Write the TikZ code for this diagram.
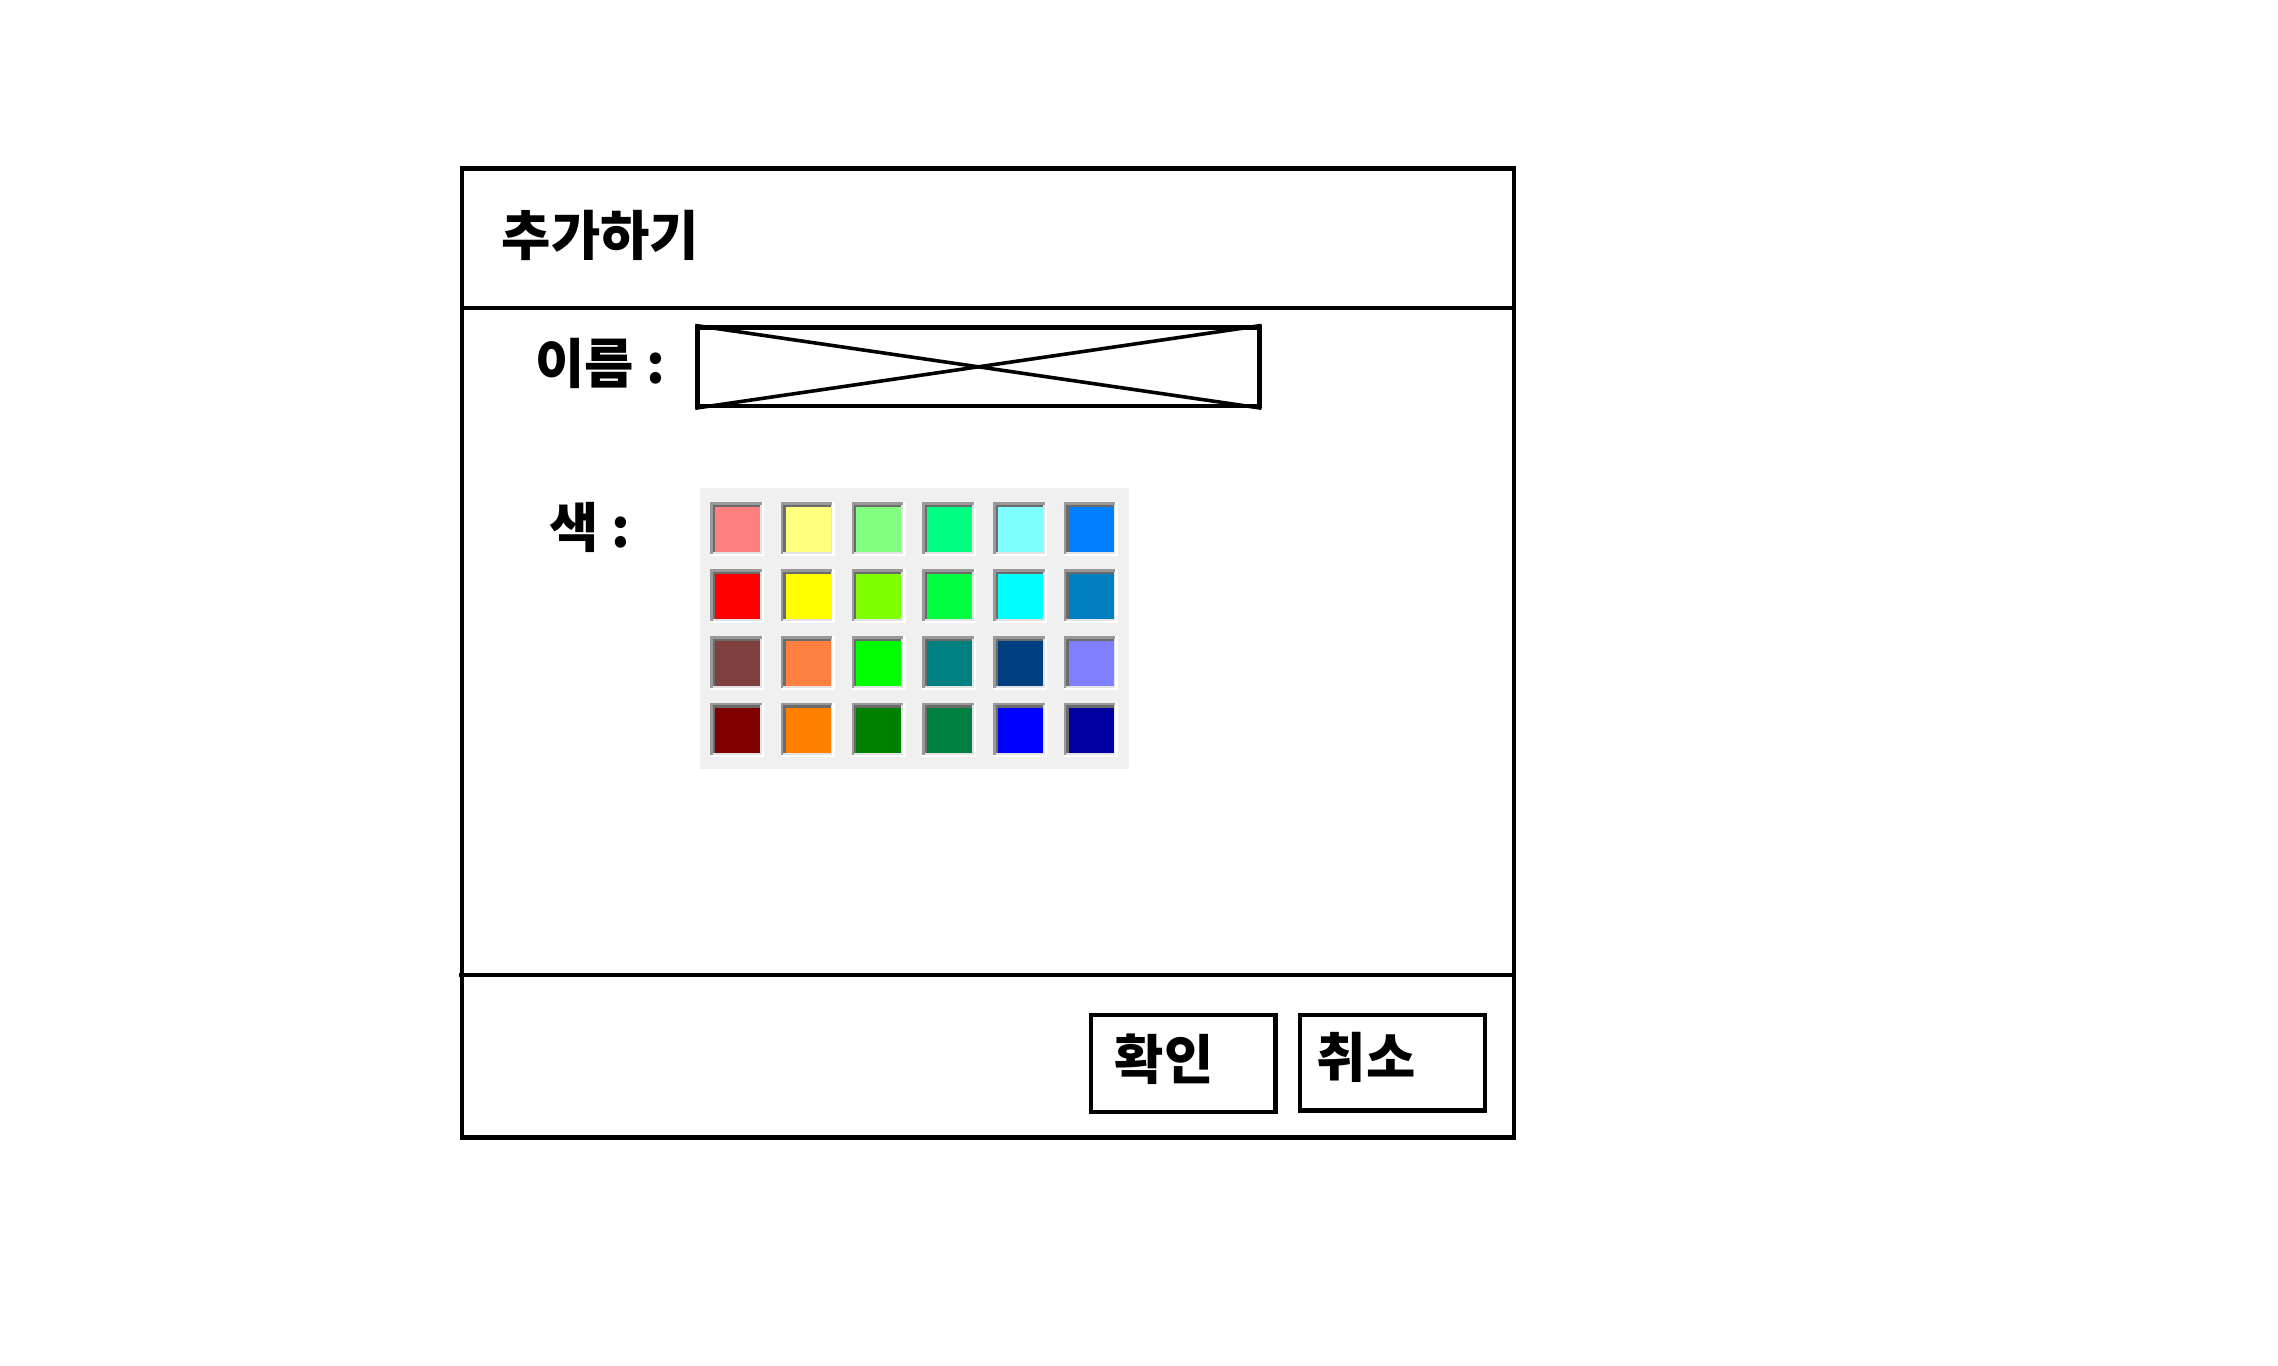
\documentclass[tikz,border=0pt]{standalone}
\usepackage{fontspec}
\newfontfamily\kr{Noto Sans CJK KR}
\usepackage{tikz}

\definecolor{paletteback}{HTML}{F0F0F0}
\definecolor{bevelout}{HTML}{999999}
\definecolor{bevelin}{HTML}{6B6B6B}
\definecolor{bevellight}{HTML}{E3E3E3}

\tikzset{
  frameline/.style={line width=1.7pt},
  krtext/.style={font=\kr\bfseries\fontsize{21}{25}\selectfont,inner sep=0pt,anchor=west},
  box/.style={draw,line width=1.7pt,inner sep=0pt,anchor=north west}
}

\begin{document}
\begin{tikzpicture}[x=0.02cm,y=-0.02cm]
\useasboundingbox (0,0) rectangle (1568,940);
\draw[frameline] (318,116) rectangle (1042,783);
\draw[frameline] (318,212) -- (1042,212);
\draw[frameline] (316,671) -- (1042,671);

\node[krtext] (title) at (345,162) {추가하기};

\node[krtext] (namelabel) at (368,250) {이름 :};
\node[box,minimum width=7.74cm,minimum height=1.08cm] (namefield) at (478.5,224) {};
\draw[line width=1.4pt] (namefield.north west) -- (namefield.south east);
\draw[line width=1.4pt] (namefield.south west) -- (namefield.north east);

\node[krtext] (colorlabel) at (378,363) {색 :};
\fill[paletteback] (482,336) rectangle (777,529);
\foreach \c [count=\i from 0] in {FF8080,FFFF80,80FF80,00FF80,80FFFF,0080FF,
                                  FF0000,FFFF00,80FF00,00FF40,00FFFF,0080C0,
                                  804040,FF8040,00FF00,008080,004080,8080FF,
                                  800000,FF8000,008000,008040,0000FF,0000A0}{
  \pgfmathsetmacro\sx{488.7+48.7*mod(\i,6)}
  \pgfmathsetmacro\sy{345.5+46.1*int(\i/6)}
  \definecolor{swatch}{HTML}{\c}
  \fill[white] (\sx,\sy) rectangle +(37.2,37.2);
  \fill[bevelout] (\sx,\sy) rectangle +(35.6,35.6);
  \fill[bevellight] (\sx+1.8,\sy+1.8) rectangle +(33.8,33.8);
  \fill[bevelin] (\sx+1.8,\sy+1.8) rectangle +(32.6,32.6);
  \fill[swatch] (\sx+3.4,\sy+3.4) rectangle +(31,31);
}

\node[box,minimum width=2.54cm,minimum height=1.34cm] (okbtn) at (749.5,697) {};
\node[krtext] (oktext) at (767,729) {확인};
\node[box,minimum width=2.54cm,minimum height=1.32cm] (cancelbtn) at (893.5,697) {};
\node[krtext] (canceltext) at (906,728) {취소};
\end{tikzpicture}
\end{document}
